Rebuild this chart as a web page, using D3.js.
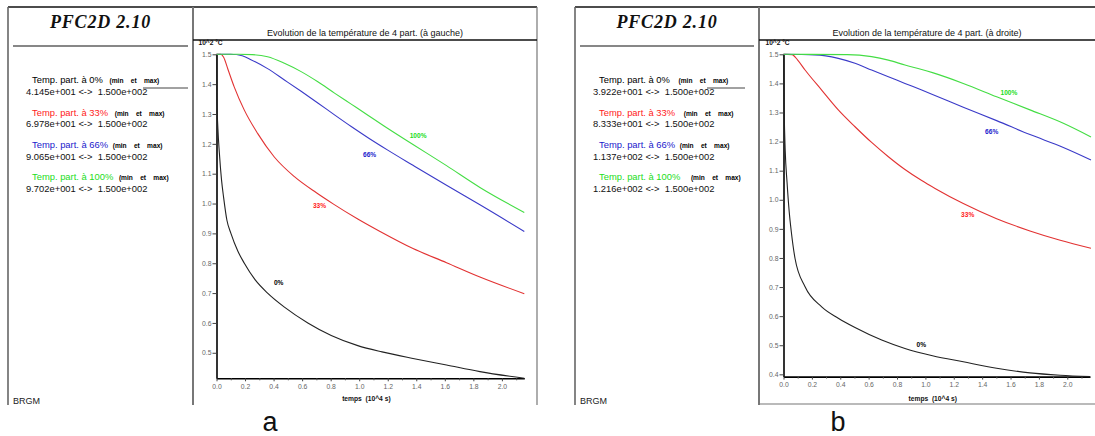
<!DOCTYPE html>
<html><head><meta charset="utf-8">
<script src="https://cdn.jsdelivr.net/npm/d3@7"></script>
<style>
html,body{margin:0;padding:0;background:#fff;}
svg{display:block;font-family:"Liberation Sans",Arial,sans-serif;}
</style></head>
<body><svg id="c" width="1095" height="436"></svg>
<script>
// ---- data ----
const seriesNames = ["0%", "33%", "66%", "100%"];
const seriesColors = ["#222222", "#e23232", "#3a3ac8", "#44dd44"];
const labelColors = ["#000000", "#ff1a1a", "#1a1acc", "#22dd22"];
const yTicksA = [0.5,0.6,0.7,0.8,0.9,1.0,1.1,1.2,1.3,1.4,1.5];
const yTicksB = [0.4,0.5,0.6,0.7,0.8,0.9,1.0,1.1,1.2,1.3,1.4,1.5];
const xTicks = [0.0,0.2,0.4,0.6,0.8,1.0,1.2,1.4,1.6,1.8,2.0];
const xMinorTicks = [0.1,0.3,0.5,0.7,0.9,1.1,1.3,1.5,1.7,1.9,2.1];

// panel a (à gauche)
const minA = ["4.145e+001","6.978e+001","9.065e+001","9.702e+001"];
const maxA = ["1.500e+002","1.500e+002","1.500e+002","1.500e+002"];
const tA0 = [0,0.002,0.01,0.02,0.035,0.05,0.073,0.101,0.15,0.195,0.27,0.358,0.476,0.64,0.804,0.99,1.16,1.377,1.612,1.846,2.157];
const vA0 = [1.5,1.36,1.25,1.17,1.08,1.02,0.944,0.9,0.84,0.8,0.745,0.7,0.653,0.6,0.558,0.524,0.503,0.481,0.459,0.437,0.4145];
const tA33 = [0,0.03,0.05,0.08,0.124,0.195,0.288,0.405,0.546,0.7,0.82,0.99,1.143,1.377,1.612,1.846,2.157];
const vA33 = [1.5,1.5,1.49,1.45,1.391,1.313,1.235,1.156,1.09,1.036,0.998,0.948,0.907,0.849,0.802,0.754,0.698];
const tA66 = [0,0.1,0.18,0.241,0.358,0.476,0.593,0.71,0.827,0.944,1.07,1.2,1.377,1.612,1.846,2.157];
const vA66 = [1.5,1.5,1.495,1.482,1.452,1.414,1.376,1.337,1.297,1.258,1.218,1.179,1.128,1.061,0.996,0.9065];
const tA100 = [0,0.15,0.25,0.358,0.476,0.593,0.71,0.827,0.944,1.061,1.174,1.377,1.612,1.846,2.157];
const vA100 = [1.5,1.5,1.499,1.492,1.47,1.442,1.408,1.37,1.333,1.296,1.26,1.198,1.127,1.054,0.9702];

// panel b (à droite)
const minB = ["3.922e+001","8.333e+001","1.137e+002","1.216e+002"];
const maxB = ["1.500e+002","1.500e+002","1.500e+002","1.500e+002"];
const tB0 = [0,0.005,0.012,0.025,0.04,0.055,0.081,0.152,0.269,0.386,0.504,0.692,0.856,1.05,1.267,1.502,1.737,1.95,2.16];
const vB0 = [1.5,1.3,1.17,1.06,0.96,0.89,0.799,0.701,0.632,0.593,0.561,0.518,0.489,0.464,0.443,0.421,0.405,0.397,0.3922];
const tB33 = [0,0.06,0.1,0.152,0.269,0.386,0.504,0.621,0.739,0.856,0.974,1.068,1.267,1.502,1.737,1.95,2.167];
const vB33 = [1.5,1.499,1.48,1.446,1.377,1.309,1.251,1.197,1.148,1.104,1.066,1.039,0.987,0.935,0.893,0.861,0.8333];
const tB66 = [0,0.22,0.386,0.504,0.621,0.739,0.856,0.974,1.05,1.267,1.502,1.737,1.972,2.167];
const vB66 = [1.5,1.498,1.486,1.469,1.446,1.423,1.4,1.377,1.362,1.318,1.272,1.224,1.18,1.137];
const tB100 = [0,0.45,0.621,0.739,0.856,0.974,1.05,1.267,1.502,1.737,1.972,2.167];
const vB100 = [1.5,1.499,1.492,1.48,1.463,1.448,1.437,1.4,1.354,1.309,1.263,1.216];

// curve label anchors (time, value) per series
const lblA = [[0.436,0.728],[0.722,0.984],[1.073,1.155],[1.413,1.218]];
const lblB = [[0.971,0.495],[1.298,0.942],[1.467,1.226],[1.589,1.36]];

const svg = d3.select("#c");

function drawPanel(o){
  const g = svg.append("g");
  // frame
  g.append("line").attr("x1",o.x0).attr("x2",o.x1).attr("y1",7).attr("y2",7).attr("stroke","#111").attr("stroke-width",1.6);
  g.append("line").attr("x1",o.x0).attr("x2",o.x0).attr("y1",7).attr("y2",405).attr("stroke","#666").attr("stroke-width",1.6);
  g.append("line").attr("x1",o.div).attr("x2",o.div).attr("y1",7).attr("y2",405).attr("stroke","#777").attr("stroke-width",2);
  if(o.rightBorder) g.append("line").attr("x1",o.x1).attr("x2",o.x1).attr("y1",7).attr("y2",405).attr("stroke","#777").attr("stroke-width",1.2);
  if(o.bottomLine) g.append("line").attr("x1",o.div).attr("x2",o.x1).attr("y1",404).attr("y2",404).attr("stroke","#777").attr("stroke-width",1.2);
  // header
  g.append("text").attr("x",(o.x0+o.div)/2).attr("y",28).attr("text-anchor","middle")
    .style("font-family","'Liberation Serif','Times New Roman',serif").style("font-weight","bold").style("font-style","italic")
    .style("font-size","18px").style("letter-spacing","0.8px").attr("fill","#111").text("PFC2D 2.10");
  g.append("line").attr("x1",o.x0+5).attr("x2",o.div-5).attr("y1",46).attr("y2",46).attr("stroke","#111").attr("stroke-width",1.2);
  g.append("line").attr("x1",o.sl0).attr("x2",o.sl1).attr("y1",88).attr("y2",88).attr("stroke","#444").attr("stroke-width",1);
  // legend
  const rowY = [80,112.5,145,177];
  seriesNames.forEach((n,i)=>{
    const t = g.append("text").attr("x",o.x0+o.legX).attr("y",rowY[i]+3.3).style("font-size","9.4px").attr("xml:space","preserve");
    t.append("tspan").style("fill",labelColors[i]).text("Temp. part. à "+n+" ");
    t.append("tspan").style("fill","#000").style("font-size","6.6px").style("font-weight","bold").attr("dx",o.legGap[i]).text("(min    et    max)");
    g.append("text").attr("x",o.x0+o.valX).attr("y",rowY[i]+14.5).style("font-size","9.4px").style("fill","#111").attr("xml:space","preserve")
      .text(o.mins[i]+" <->  "+o.maxs[i]);
  });
  g.append("text").attr("x",o.x0+5).attr("y",404).style("font-size","9px").style("fill","#222").text("BRGM");
  // title
  g.append("text").attr("x",o.titleX).attr("y",35.5).attr("text-anchor","middle").style("font-size","9px").style("fill","#111").text(o.title);
  g.append("line").attr("x1",o.div).attr("x2",o.x1).attr("y1",40).attr("y2",40).attr("stroke","#111").attr("stroke-width",1.6);

  // scales
  const x = d3.scaleLinear().domain([0,o.tMax]).range([o.px0,o.px1]);
  const y = d3.scaleLinear().domain([o.vMin,1.5]).range([o.py1,o.py0]);

  // y axis
  const ya = g.append("g").attr("transform",`translate(${o.px0},0)`)
    .call(d3.axisLeft(y).tickValues(o.yTicks).tickFormat(d3.format(".1f")).tickSize(4).tickSizeOuter(0));
  ya.select(".domain").attr("stroke","#000").attr("stroke-width",1.6);
  ya.selectAll(".tick line").attr("stroke","#444");
  ya.selectAll(".tick text").attr("fill","#666").style("font-size","6.8px").style("font-family","'Liberation Sans',Arial,sans-serif").attr("x",-5);
  // x axis
  const xa = g.append("g").attr("transform",`translate(0,${o.py1})`)
    .call(d3.axisBottom(x).tickValues(xTicks).tickFormat(d3.format(".1f")).tickSize(3).tickSizeOuter(0));
  xa.select(".domain").attr("stroke","#000").attr("stroke-width",1.6);
  xa.selectAll(".tick line").attr("stroke","#444");
  xa.selectAll(".tick text").attr("fill","#666").style("font-size","6.8px").style("font-family","'Liberation Sans',Arial,sans-serif").attr("y",6);
  const xm = g.append("g").attr("transform",`translate(0,${o.py1})`)
    .call(d3.axisBottom(x).tickValues(xMinorTicks.filter(d=>d<=o.tMax)).tickFormat("").tickSize(2).tickSizeOuter(0));
  xm.select(".domain").remove();
  xm.selectAll(".tick line").attr("stroke","#555");

  g.append("text").attr("x",o.px0-18).attr("y",o.py0-9.5).style("font-size","6.6px").style("font-weight","bold").style("fill","#111").text("10^2 °C");
  g.append("text").attr("x",(o.px0+o.px1)/2-4).attr("y",400.5).attr("text-anchor","middle").style("font-size","6.7px").style("font-weight","bold").style("fill","#111")
    .attr("xml:space","preserve").text("temps  (10^4 s)");

  // curves
  const line = d3.line().x(d=>x(d[0])).y(d=>y(d[1])).curve(d3.curveMonotoneX);
  o.series.forEach((s,i)=>{
    const pts = s.t.map((tt,k)=>[tt,s.v[k]]);
    g.append("path").datum(pts).attr("d",line).attr("fill","none").attr("stroke",seriesColors[i]).attr("stroke-width",1.1);
  });
  o.labels.forEach((p,i)=>{
    g.append("text").attr("x",x(p[0])).attr("y",y(p[1])).attr("text-anchor","middle").style("font-size","6.6px").style("font-weight","bold")
      .style("fill",labelColors[i]).text(seriesNames[i]);
  });
}

drawPanel({x0:8,x1:537,div:193,rightBorder:true,bottomLine:false,sl0:143,sl1:188,legX:24,valX:18,legGap:[4,4,2,3],
  mins:minA,maxs:maxA,title:"Evolution de la température de 4 part. (à gauche)",titleX:365,
  px0:216.5,px1:524.3,py0:54.3,py1:378.3,tMax:2.157,vMin:0.4145,yTicks:yTicksA,
  series:[{t:tA0,v:vA0},{t:tA33,v:vA33},{t:tA66,v:vA66},{t:tA100,v:vA100}],labels:lblA});
drawPanel({x0:575,x1:1096,div:759,rightBorder:false,bottomLine:true,sl0:707,sl1:745,legX:24,valX:18,legGap:[6,6,2,8],
  mins:minB,maxs:maxB,title:"Evolution de la température de 4 part. (à droite)",titleX:927,
  px0:783.5,px1:1090,py0:54.3,py1:376.6,tMax:2.16,vMin:0.3922,yTicks:yTicksB,
  series:[{t:tB0,v:vB0},{t:tB33,v:vB33},{t:tB66,v:vB66},{t:tB100,v:vB100}],labels:lblB});

svg.append("text").attr("x",270).attr("y",431).attr("text-anchor","middle").style("font-size","27px").style("fill","#111").text("a");
svg.append("text").attr("x",838).attr("y",431).attr("text-anchor","middle").style("font-size","27px").style("fill","#111").text("b");
</script></body></html>
